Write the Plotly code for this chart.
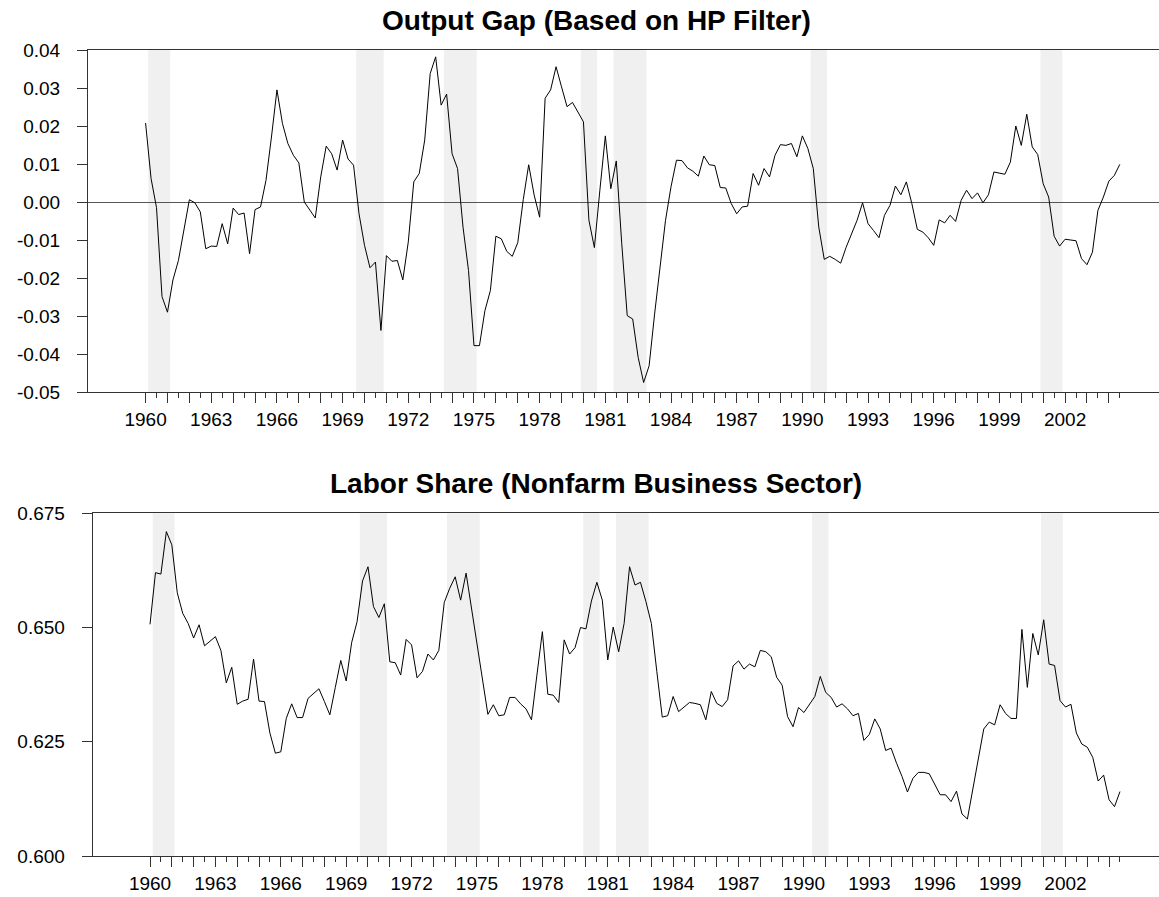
import plotly.graph_objects as go

# ---------------- data ----------------
start_year = 1960  # first observation 1960Q1, quarterly
output_gap = [
    0.0208, 0.0062, -0.0015, -0.0249, -0.0290, -0.0205, -0.0154, -0.0070, 0.0006, -0.0002,
    -0.0026, -0.0123, -0.0116, -0.0117, -0.0057, -0.0110, -0.0016, -0.0033, -0.0029, -0.0136,
    -0.0020, -0.0013, 0.0057, 0.0171, 0.0295, 0.0207, 0.0154, 0.0123, 0.0103, 0.0000,
    -0.0020, -0.0042, 0.0066, 0.0147, 0.0127, 0.0084, 0.0163, 0.0113, 0.0097, -0.0031,
    -0.0114, -0.0173, -0.0158, -0.0338, -0.0141, -0.0156, -0.0154, -0.0205, -0.0105, 0.0053,
    0.0075, 0.0163, 0.0338, 0.0382, 0.0255, 0.0284, 0.0127, 0.0088, -0.0066, -0.0180,
    -0.0378, -0.0378, -0.0286, -0.0233, -0.0090, -0.0097, -0.0130, -0.0143, -0.0107, 0.0006,
    0.0098, 0.0018, -0.0040, 0.0273, 0.0295, 0.0356, 0.0303, 0.0251, 0.0262, 0.0237,
    0.0211, -0.0048, -0.0120, 0.0031, 0.0174, 0.0035, 0.0108, -0.0110, -0.0299, -0.0308,
    -0.0409, -0.0475, -0.0431, -0.0295, -0.0163, -0.0048, 0.0040, 0.0110, 0.0109, 0.0090,
    0.0081, 0.0068, 0.0121, 0.0098, 0.0096, 0.0038, 0.0037, -0.0004, -0.0031, -0.0013,
    -0.0011, 0.0075, 0.0044, 0.0088, 0.0066, 0.0123, 0.0151, 0.0149, 0.0154, 0.0119,
    0.0174, 0.0141, 0.0088, -0.0066, -0.0151, -0.0143, -0.0151, -0.0161, -0.0119, -0.0084,
    -0.0048, -0.0002, -0.0057, -0.0075, -0.0094, -0.0035, -0.0009, 0.0042, 0.0019, 0.0053,
    -0.0004, -0.0072, -0.0079, -0.0094, -0.0114, -0.0047, -0.0055, -0.0035, -0.0051, 0.0004,
    0.0031, 0.0009, 0.0024, -0.0002, 0.0019, 0.0079, 0.0076, 0.0073, 0.0105, 0.0200,
    0.0149, 0.0231, 0.0145, 0.0125, 0.0048, 0.0013, -0.0090, -0.0116, -0.0098, -0.0101,
    -0.0102, -0.0149, -0.0165, -0.0132, -0.0022, 0.0013, 0.0055, 0.0070, 0.0099,
]
labor_share = [
    0.6507, 0.6620, 0.6617, 0.6710, 0.6681, 0.6576, 0.6531, 0.6509, 0.6477, 0.6506,
    0.6460, 0.6471, 0.6480, 0.6450, 0.6379, 0.6413, 0.6332, 0.6339, 0.6343, 0.6431,
    0.6339, 0.6338, 0.6269, 0.6225, 0.6228, 0.6301, 0.6333, 0.6303, 0.6303, 0.6345,
    0.6356, 0.6366, 0.6338, 0.6309, 0.6369, 0.6428, 0.6383, 0.6467, 0.6513, 0.6602,
    0.6633, 0.6546, 0.6522, 0.6552, 0.6425, 0.6423, 0.6396, 0.6474, 0.6462, 0.6390,
    0.6404, 0.6442, 0.6429, 0.6450, 0.6555, 0.6586, 0.6611, 0.6560, 0.6619, 0.6542,
    0.6463, 0.6385, 0.6310, 0.6331, 0.6307, 0.6309, 0.6347, 0.6347, 0.6333, 0.6322,
    0.6298, 0.6396, 0.6491, 0.6354, 0.6352, 0.6336, 0.6473, 0.6442, 0.6456, 0.6500,
    0.6497, 0.6558, 0.6599, 0.6560, 0.6429, 0.6501, 0.6447, 0.6509, 0.6633, 0.6593,
    0.6599, 0.6557, 0.6509, 0.6404, 0.6304, 0.6307, 0.6349, 0.6316, 0.6327, 0.6336,
    0.6334, 0.6331, 0.6298, 0.6360, 0.6334, 0.6327, 0.6342, 0.6416, 0.6427, 0.6409,
    0.6420, 0.6414, 0.6450, 0.6447, 0.6436, 0.6391, 0.6374, 0.6305, 0.6283, 0.6325,
    0.6314, 0.6332, 0.6349, 0.6393, 0.6358, 0.6347, 0.6326, 0.6333, 0.6322, 0.6307,
    0.6312, 0.6253, 0.6266, 0.6300, 0.6278, 0.6231, 0.6236, 0.6203, 0.6174, 0.6140,
    0.6170, 0.6183, 0.6183, 0.6180, 0.6156, 0.6134, 0.6134, 0.6119, 0.6142, 0.6092,
    0.6081, 0.6147, 0.6212, 0.6278, 0.6293, 0.6287, 0.6331, 0.6312, 0.6301, 0.6301,
    0.6496, 0.6369, 0.6487, 0.6440, 0.6517, 0.6420, 0.6417, 0.6340, 0.6326, 0.6332,
    0.6269, 0.6245, 0.6238, 0.6216, 0.6164, 0.6177, 0.6123, 0.6108, 0.6141,
]
# NBER recessions (first and last recession quarter)
rec_start = ["1960Q2", "1969Q4", "1973Q4", "1980Q1", "1981Q3", "1990Q3", "2001Q1"]
rec_end = ["1961Q1", "1970Q4", "1975Q1", "1980Q3", "1982Q4", "1991Q1", "2001Q4"]

year_ticks = list(range(1960, 2005))
year_labels = ["1960", "1963", "1966", "1969", "1972", "1975", "1978", "1981",
               "1984", "1987", "1990", "1993", "1996", "1999", "2002"]
gap_tickvals = [0.04, 0.03, 0.02, 0.01, 0.0, -0.01, -0.02, -0.03, -0.04, -0.05]
gap_ticktext = ["0.04", "0.03", "0.02", "0.01", "0.00", "-0.01", "-0.02", "-0.03", "-0.04", "-0.05"]
ls_tickvals = [0.600, 0.625, 0.650, 0.675]
ls_ticktext = ["0.600", "0.625", "0.650", "0.675"]
titles = ["Output Gap (Based on HP Filter)", "Labor Share (Nonfarm Business Sector)"]

# ---------------- helpers ----------------
def qpos(q):
    y, qq = q.split("Q")
    return int(y) + (int(qq) - 1) / 4.0

x_gap = [start_year + i / 4.0 for i in range(len(output_gap))]
x_ls = [start_year + i / 4.0 for i in range(len(labor_share))]
year_text = [str(y) if str(y) in year_labels else "" for y in year_ticks]
half_ticks = [y + 0.5 for y in year_ticks]

FONT = "Arial, 'Liberation Sans', Helvetica, sans-serif"
AX = "#333333"
XRANGE = [1957.37, 2006.29]
W, H = 1159, 897

fig = go.Figure()
fig.add_trace(go.Scatter(x=x_gap, y=output_gap, mode="lines",
                         line=dict(color="black", width=1), xaxis="x", yaxis="y",
                         showlegend=False, hoverinfo="x+y"))
fig.add_trace(go.Scatter(x=x_ls, y=labor_share, mode="lines",
                         line=dict(color="black", width=1), xaxis="x2", yaxis="y2",
                         showlegend=False, hoverinfo="x+y"))

shapes = []
for xr, yr in (("x", "y domain"), ("x2", "y2 domain")):
    for s, e in zip(rec_start, rec_end):
        shapes.append(dict(type="rect", xref=xr, yref=yr,
                           x0=qpos(s) - 0.125, x1=qpos(e) + 0.125, y0=0, y1=1,
                           fillcolor="#f0f0f0", line=dict(width=0), layer="below"))

def xaxis_cfg(domain_left, anchor):
    return dict(domain=[domain_left, 1.0], range=XRANGE, anchor=anchor, automargin=False,
                tickmode="array", tickvals=year_ticks, ticktext=year_text,
                ticks="outside", ticklen=10, tickwidth=1, tickcolor=AX,
                minor=dict(tickmode="array", tickvals=half_ticks, ticks="outside",
                           ticklen=5, tickwidth=1, tickcolor=AX, showgrid=False),
                showline=True, linecolor=AX, linewidth=1, mirror=True,
                showgrid=False, zeroline=False,
                tickfont=dict(family=FONT, size=19, color="black"),
                ticklabelstandoff=0)

def yaxis_cfg(domain, anchor, tv, tt, rng, zero):
    return dict(domain=domain, range=rng, anchor=anchor, automargin=False,
                tickmode="array", tickvals=tv, ticktext=tt,
                ticks="outside", ticklen=10, tickwidth=1, tickcolor=AX,
                showline=True, linecolor=AX, linewidth=1, mirror=False,
                showgrid=False, zeroline=zero, zerolinecolor="#555555", zerolinewidth=1,
                tickfont=dict(family=FONT, size=19, color="black"),
                ticklabelstandoff=13)

top_dom = [1 - 392 / H, 1 - 50 / H]
bot_dom = [1 - 856 / H, 1 - 513.3 / H]

fig.update_layout(
    width=W, height=H, margin=dict(l=0, r=0, t=0, b=0, pad=0), autosize=False,
    paper_bgcolor="white", plot_bgcolor="white",
    font=dict(family=FONT, color="black"),
    shapes=shapes,
    xaxis=xaxis_cfg(88 / W, "y"),
    yaxis=yaxis_cfg(top_dom, "x", gap_tickvals, gap_ticktext, [-0.05, 0.04], True),
    xaxis2=xaxis_cfg(92.7 / W, "y2"),
    yaxis2=yaxis_cfg(bot_dom, "x2", ls_tickvals, ls_ticktext, [0.600, 0.675], False),
    annotations=[
        dict(text="<b>%s</b>" % titles[0], x=596 / W, y=1 - 20 / H, xref="paper", yref="paper",
             xanchor="center", yanchor="middle", showarrow=False,
             font=dict(family=FONT, size=28, color="black")),
        dict(text="<b>%s</b>" % titles[1], x=596 / W, y=1 - 483 / H, xref="paper", yref="paper",
             xanchor="center", yanchor="middle", showarrow=False,
             font=dict(family=FONT, size=28, color="black")),
    ],
)

fig.write_html("out.html", config={"displayModeBar": False},
               post_script="document.body.style.margin='0';document.body.style.overflow='hidden';")
